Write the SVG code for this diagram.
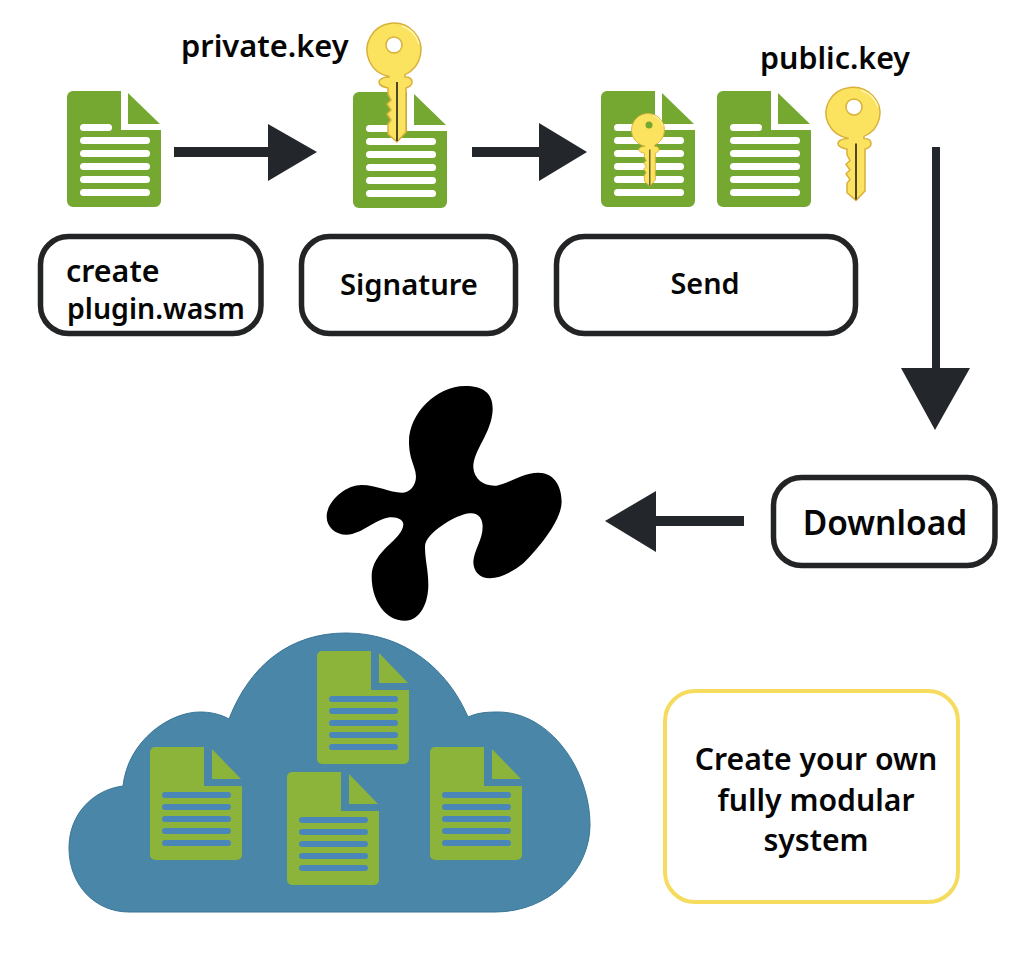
<svg xmlns="http://www.w3.org/2000/svg" width="1024" height="970" viewBox="0 0 1024 970">
<style>
text{font-family:"Noto Sans","Open Sans","Liberation Sans",sans-serif;font-weight:650;fill:#060606}
.c{text-anchor:middle}
.box{fill:#fff;stroke:#222426;stroke-width:5.500}
.conn{fill:#23262b}
.dg{fill:#74a830}
.dl{fill:#fff}
.cg{fill:#8cb43a}
.cl{fill:#4a86b8}
.ks{fill:#fbe35f;stroke:#d8b03c;stroke-width:1.5}
.kl{stroke:#20201a;stroke-width:1.6;fill:none}
.hole{fill:#fff;stroke:#d8b03c;stroke-width:1.5}
</style>
<defs>
<g id="doc">
<path class="dg" d="M7,0H55V39H95V110a6,6 0 0 1 -6,6H7a6,6 0 0 1 -6,-6V6a6,6 0 0 1 6,-6Z"/>
<path class="dg" d="M62,2L94,33H62Z"/>
<g class="dl">
<rect x="14" y="33" width="32" height="7" rx="3.500"/>
<rect x="14" y="46" width="70" height="7" rx="3.500"/>
<rect x="14" y="59" width="70" height="7" rx="3.500"/>
<rect x="14" y="72" width="70" height="7" rx="3.500"/>
<rect x="14" y="85" width="70" height="7" rx="3.500"/>
<rect x="14" y="98" width="70" height="7" rx="3.500"/>
</g>
</g>
<g id="cdoc">
<path class="cg" d="M5,0H54V39H92V108a5,5 0 0 1 -5,5H5a5,5 0 0 1 -5,-5V5a5,5 0 0 1 5,-5Z"/>
<path class="cg" d="M62,2L91,32H62Z"/>
<g class="cl">
<rect x="12" y="45" width="69" height="6" rx="3"/>
<rect x="12" y="57" width="69" height="6" rx="3"/>
<rect x="12" y="69" width="69" height="6" rx="3"/>
<rect x="12" y="81" width="69" height="6" rx="3"/>
<rect x="12" y="93" width="69" height="6" rx="3"/>
</g>
</g>
<g id="key">
<path class="ks" d="M-5,26.500A27,27 0 1 1 11,24.600V27C17,27 18,30 18,32C18,35 15,37 12,38V82L3,92L-6,84V74L-3,70L-7,64L-3,60L-7,54L-3,50L-6,44V38C-10,37 -15,36 -15,32C-15,29 -10,27 -5,27Z"/>
<path class="kl" d="M3,32V91"/>
<path d="M8,-24A26,26 0 0 1 25,-6" fill="none" stroke="#fff6b4" stroke-width="1.500"/>
</g>
</defs>
<rect width="1024" height="970" fill="#fff"/>

<g id="connectors" class="conn">
<path d="M174,147H268V124L317,152L268,181V157H174Z"/>
<path d="M472,147H539V123L587,152L539,181V157H472Z"/>
<path d="M932,147H940V368H970L935,430L901,368H932Z"/>
<path d="M744,516H656V491L605,521L656,552V526H744Z"/>
</g>

<g id="node-create">
<use href="#doc" x="66" y="91"/>
<rect class="box" x="40.500" y="236.500" width="220.500" height="97" rx="28"/>
<text x="66" y="282" font-size="30.400">create</text>
<text x="67" y="318.500" font-size="28.500">plugin.wasm</text>
</g>

<g id="node-signature">
<use href="#doc" x="352" y="92"/>
<use href="#key" transform="translate(394,50)"/>
<circle class="hole" cx="394" cy="45" r="8"/>
<rect class="box" x="301.500" y="236.500" width="214" height="97" rx="28"/>
<text class="c" x="409" y="295" font-size="29.200">Signature</text>
<text x="181" y="57" font-size="30.800">private.key</text>
</g>

<g id="node-send">
<use href="#doc" x="600" y="91"/>
<use href="#key" transform="translate(648,130) scale(.61)"/>
<circle cx="649" cy="125" r="3.500" fill="#74a830"/>
<use href="#doc" x="716" y="91"/>
<use href="#key" transform="translate(853,113) scale(1,.95)"/>
<circle class="hole" cx="854" cy="107" r="8"/>
<rect class="box" x="556.500" y="236.500" width="299" height="97" rx="28"/>
<text class="c" x="705" y="294" font-size="28.800">Send</text>
<text x="760" y="69" font-size="30.400">public.key</text>
</g>

<g id="node-download">
<rect class="box" x="773.500" y="477.500" width="221.500" height="88" rx="28"/>
<text class="c" x="885" y="535" font-size="33.500">Download</text>
</g>

<g id="node-plugin-system">
<path transform="translate(310,370) scale(.3333)" fill="#000" d="M465,48C520,48 550,70 548,120C545,190 490,240 490,292C492,330 525,350 560,347C600,340 635,308 685,308C730,308 755,345 755,395C755,450 690,530 640,580C610,605 570,625 540,625C510,625 490,605 490,575C492,540 518,510 518,470C518,445 505,428 480,430C440,432 345,490 345,530C345,570 355,600 355,645C355,700 330,752 285,752C225,752 185,690 185,620C185,540 280,510 280,462C280,450 262,440 240,442C195,447 155,494 110,494C75,494 50,470 50,440C50,395 105,345 155,345C200,345 240,368 275,368C300,368 318,345 318,320C318,290 297,270 297,215C297,130 380,48 465,48Z"/>
</g>

<g id="node-cloud">
<path fill="#4a86a8" stroke="#3a7596" stroke-width="1" d="M129,912C95,912 69,885 69,848C69,815 92,790 123,786C128,740 170,712 200,712C210,712 220,714 229,719C250,665 290,633 346,633C405,633 448,670 468,717C477,713 485,712 498,712C550,712 590,770 590,825C590,870 550,912 495,912Z"/>
<use href="#cdoc" x="317" y="651"/>
<use href="#cdoc" x="150" y="747"/>
<use href="#cdoc" x="287" y="772"/>
<use href="#cdoc" x="430" y="747"/>
</g>

<g id="node-note">
<rect x="665" y="691" width="293" height="211" rx="30" fill="#fff" stroke="#f6dc5e" stroke-width="4"/>
<text class="c" x="816" y="770" font-size="30.200">Create your own</text>
<text class="c" x="816" y="811" font-size="30.200">fully modular</text>
<text class="c" x="816" y="851" font-size="30.200">system</text>
</g>
</svg>
